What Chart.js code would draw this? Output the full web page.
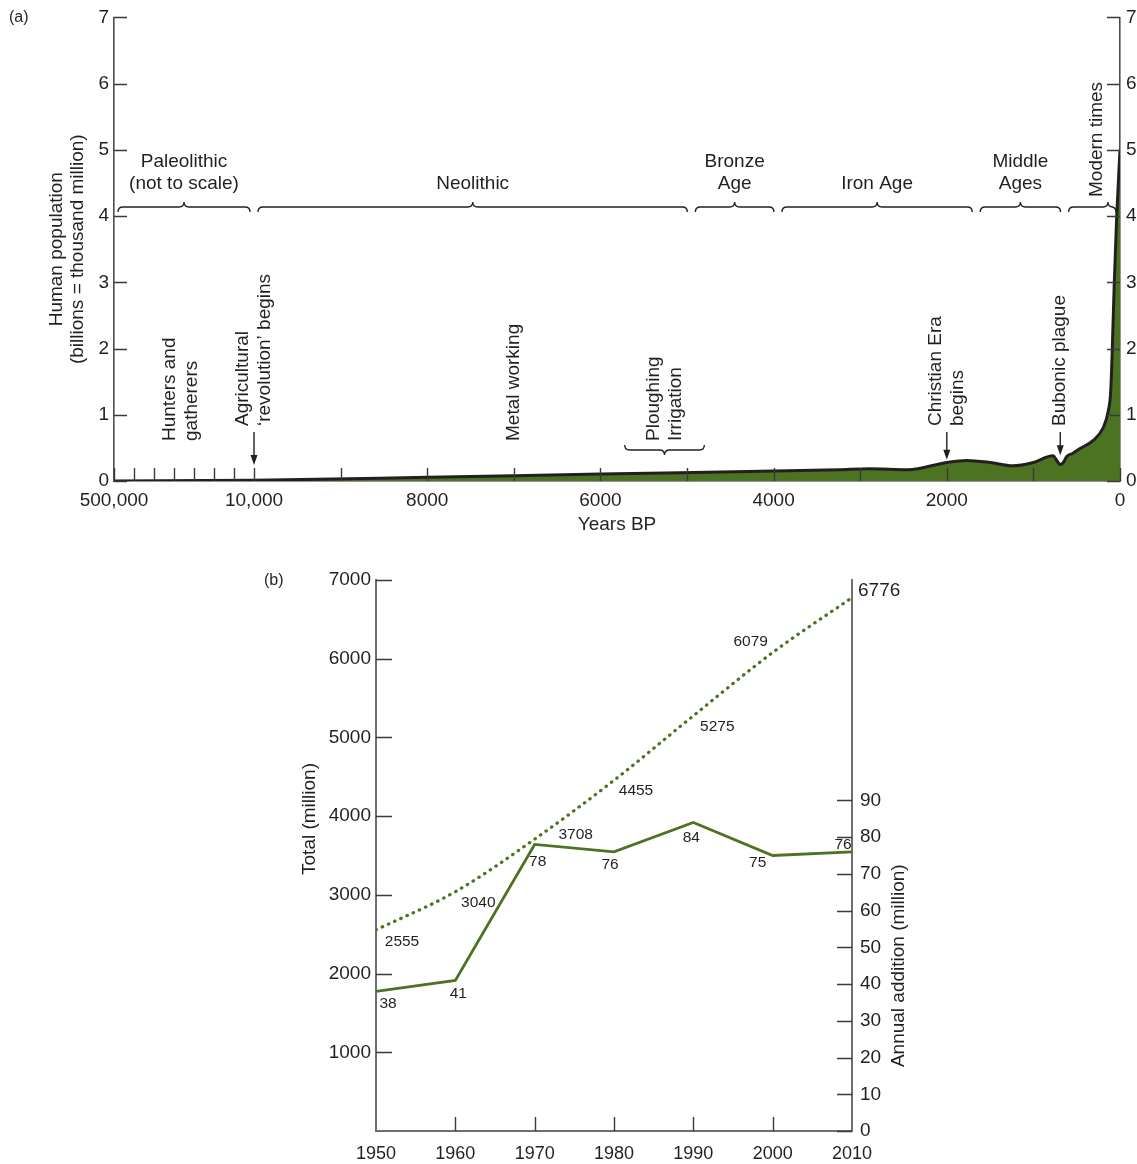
<!DOCTYPE html>
<html>
<head>
<meta charset="utf-8">
<script src="https://cdn.jsdelivr.net/npm/chart.js@4.4.1/dist/chart.umd.min.js"></script>
<style>
  html, body { margin: 0; padding: 0; background: #fff; width: 1137px; height: 1164px; overflow: hidden; }
  canvas { position: absolute; left: 0; }
  #popHistory { top: 0; }
  #popModern { top: 545px; }
</style>
</head>
<body>
<canvas id="popHistory" width="1137" height="545"></canvas>
<canvas id="popModern" width="1137" height="619"></canvas>
<script>
// ---------- (a) world population through history ----------
const yearsBP = [500000, 10000, 8000, 6000, 4000, 3250, 2900, 2450, 2000, 1770, 1500, 1240, 1000,
                 774, 730, 692, 654, 615, 543, 462, 312, 196, 135, 107, 89, 66, 38, 0];
const populationBillions = [0.001, 0.01, 0.055, 0.105, 0.15, 0.17, 0.185, 0.17, 0.28, 0.31, 0.28, 0.23, 0.28,
                            0.38, 0.31, 0.25, 0.28, 0.37, 0.42, 0.49, 0.61, 0.80, 1.06, 1.36, 2.0, 3.0, 4.0, 5.0];

const xTickYears  = [500000, 430000, 360000, 290000, 220000, 150000, 80000, 10000, 9000, 8000, 7000, 6000, 5000, 4000, 3000, 2000, 1000, 0];
const xTickLabels = ['500,000', '', '', '', '', '', '', '10,000', '', '8000', '', '6000', '', '4000', '', '2000', '', '0'];
const popTicks = [0, 1, 2, 3, 4, 5, 6, 7];

const eraNames  = [['Paleolithic', '(not to scale)'], ['Neolithic'], ['Bronze', 'Age'], ['Iron Age'], ['Middle', 'Ages'], ['Modern times']];
const eraBounds = [[500000, 10000], [10000, 4950], [4950, 3950], [3950, 1660], [1660, 640], [640, 0]];

const eventLines = [['Hunters and', 'gatherers'], ['Agricultural', '\u2018revolution\u2019 begins'], ['Metal working'],
                    ['Ploughing', 'Irrigation'], ['Christian Era', 'begins'], ['Bubonic plague']];
const eventYears = [265000, 10000, 7000, 5260, 2000, 690];
const eventArrowTips = [null, 0.24, null, null, 0.32, 0.39];   // billions, where each arrow points
const ploughingSpan = [5720, 4800];

// ---------- (b) world population 1950–2010 ----------
const decades = [1950, 1960, 1970, 1980, 1990, 2000, 2010];
const totalMillions = [2555, 3040, 3708, 4455, 5275, 6079, 6776];
const annualAdditionMillions = [38, 41, 78, 76, 84, 75, 76];
const totalTicks = [1000, 2000, 3000, 4000, 5000, 6000, 7000];
const additionTicks = [0, 10, 20, 30, 40, 50, 60, 70, 80, 90];

// ---------- shared styling ----------
const FONT = "'Liberation Sans', Arial, Helvetica, sans-serif";
const INK = '#231f20';
const GREEN = '#4b7321';
const AXIS_GREY = '#6d6e70';

// The oldest stretch (500,000–10,000 BP) is squeezed into a short, not-to-scale band.
const PALEO_SPAN = 1617;
function toAxis(yr) {
  if (yr <= 10000) return yr;
  return 10000 + (yr - 10000) / 490000 * PALEO_SPAN;
}

function drawInnerTicks(ctx, scale, values, len, side, ca) {
  ctx.save();
  ctx.strokeStyle = '#3a3a3a';
  ctx.lineWidth = 1.4;
  ctx.beginPath();
  values.forEach(v => {
    const p = Math.round(scale.getPixelForValue(v)) + 0.5;
    if (side === 'bottom') { ctx.moveTo(p, ca.bottom); ctx.lineTo(p, ca.bottom - len); }
    else if (side === 'left') { ctx.moveTo(ca.left, p); ctx.lineTo(ca.left + len, p); }
    else { ctx.moveTo(ca.right, p); ctx.lineTo(ca.right - len, p); }
  });
  ctx.stroke();
  ctx.restore();
}

function brace(ctx, x0, x1, xc, y, dir) {
  // dir = -1: point up, ends curl down; dir = 1: point down, ends curl up
  const r = 5;
  ctx.beginPath();
  ctx.moveTo(x0, y - dir * r);
  ctx.quadraticCurveTo(x0, y, x0 + r, y);
  ctx.lineTo(xc - r, y);
  ctx.quadraticCurveTo(xc, y, xc, y + dir * r);
  ctx.quadraticCurveTo(xc, y, xc + r, y);
  ctx.lineTo(x1 - r, y);
  ctx.quadraticCurveTo(x1, y, x1, y - dir * r);
  ctx.stroke();
}

function verticalText(ctx, text, x, yBottom) {
  ctx.save();
  ctx.translate(x, yBottom);
  ctx.rotate(-Math.PI / 2);
  ctx.textAlign = 'left';
  ctx.textBaseline = 'middle';
  ctx.fillText(text, 0, 0);
  ctx.restore();
}

function centeredVerticalText(ctx, text, x, yc) {
  ctx.save();
  ctx.translate(x, yc);
  ctx.rotate(-Math.PI / 2);
  ctx.textAlign = 'center';
  ctx.textBaseline = 'middle';
  ctx.fillText(text, 0, 0);
  ctx.restore();
}

function downArrow(ctx, x, yFrom, yTip) {
  ctx.save();
  ctx.strokeStyle = INK;
  ctx.fillStyle = INK;
  ctx.lineWidth = 1.4;
  ctx.beginPath();
  ctx.moveTo(x, yFrom);
  ctx.lineTo(x, yTip - 8);
  ctx.stroke();
  ctx.beginPath();
  ctx.moveTo(x - 3.5, yTip - 10);
  ctx.lineTo(x + 3.5, yTip - 10);
  ctx.lineTo(x, yTip);
  ctx.closePath();
  ctx.fill();
  ctx.restore();
}

const historyDecor = {
  id: 'historyDecor',
  afterDatasetsDraw(chart) {
    const { ctx, chartArea: ca, scales } = chart;
    const x = scales.x, y = scales.y;
    drawInnerTicks(ctx, x, xTickYears.map(toAxis), 13, 'bottom', ca);
    drawInnerTicks(ctx, y, popTicks, 13, 'left', ca);
    drawInnerTicks(ctx, scales.yRight, popTicks, 13, 'right', ca);

    ctx.save();
    ctx.fillStyle = INK;
    ctx.strokeStyle = INK;
    ctx.font = `19px ${FONT}`;

    // period braces and names
    ctx.lineWidth = 1.4;
    eraBounds.forEach((b, i) => {
      const x0 = x.getPixelForValue(toAxis(b[0])) + 4;
      const x1 = x.getPixelForValue(toAxis(b[1])) - 4;
      const isLast = i === eraBounds.length - 1;
      const xc = isLast ? x0 + (x1 - x0) * 0.83 : (x0 + x1) / 2;
      brace(ctx, x0, x1, xc, 207, -1);
      const lines = eraNames[i];
      if (isLast) {
        verticalText(ctx, lines[0], xc - 11, 197);
      } else {
        ctx.textAlign = 'center';
        ctx.textBaseline = 'middle';
        lines.forEach((t, k) => ctx.fillText(t, (x0 + x1) / 2, 184 - (lines.length - 1 - k) * 22));
      }
    });

    // events
    eventLines.forEach((lines, i) => {
      const xc = x.getPixelForValue(toAxis(eventYears[i]));
      const tip = eventArrowTips[i];
      const yBottom = tip === null ? 441 : 426;
      lines.forEach((t, k) => verticalText(ctx, t, xc + (k - (lines.length - 1) / 2) * 22, yBottom));
      if (tip !== null) downArrow(ctx, xc, 432, y.getPixelForValue(tip));
    });
    ctx.lineWidth = 1.4;
    ctx.strokeStyle = INK;
    brace(ctx, x.getPixelForValue(ploughingSpan[0]), x.getPixelForValue(ploughingSpan[1]),
          (x.getPixelForValue(ploughingSpan[0]) + x.getPixelForValue(ploughingSpan[1])) / 2, 450, 1);

    // axis titles and panel letter
    ctx.textAlign = 'center';
    ctx.textBaseline = 'middle';
    ctx.fillText('Years BP', (ca.left + ca.right) / 2, 525);
    const yMid = (ca.top + ca.bottom) / 2;
    centeredVerticalText(ctx, 'Human population', 57, yMid);
    centeredVerticalText(ctx, '(billions = thousand million)', 78, yMid);
    ctx.font = `16px ${FONT}`;
    ctx.textAlign = 'left';
    ctx.fillText('(a)', 9, 18);
    ctx.restore();
  }
};

const tickFont = { family: FONT, size: 19 };

new Chart(document.getElementById('popHistory'), {
  type: 'line',
  data: {
    datasets: [{
      data: yearsBP.map((yr, i) => ({ x: toAxis(yr), y: populationBillions[i] })),
      borderColor: INK,
      borderWidth: 3,
      backgroundColor: GREEN,
      fill: 'origin',
      pointRadius: 0,
      cubicInterpolationMode: 'monotone'
    }]
  },
  options: {
    responsive: false,
    animation: false,
    events: [],
    layout: { padding: { top: 17, left: 0, right: 0, bottom: 0 } },
    plugins: { legend: { display: false }, tooltip: { enabled: false } },
    scales: {
      x: {
        type: 'linear', reverse: true, min: 0, max: toAxis(500000),
        afterBuildTicks: s => { s.ticks = xTickYears.map(yr => ({ value: toAxis(yr) })); },
        afterFit: s => { s.height = 64; },
        ticks: { autoSkip: false, maxRotation: 0, padding: 8, font: tickFont, color: INK,
                 callback: (v, i) => xTickLabels[i] },
        grid: { drawOnChartArea: false, drawTicks: false },
        border: { color: '#2b2b2b', width: 1.6 }
      },
      y: {
        position: 'left', min: 0, max: 7,
        afterBuildTicks: s => { s.ticks = popTicks.map(v => ({ value: v })); },
        afterFit: s => { s.width = 114; },
        ticks: { padding: 5, font: tickFont, color: INK, callback: v => String(v) },
        grid: { drawOnChartArea: false, drawTicks: false },
        border: { color: '#4d4d4f', width: 1.6 }
      },
      yRight: {
        position: 'right', min: 0, max: 7,
        afterBuildTicks: s => { s.ticks = popTicks.map(v => ({ value: v })); },
        afterFit: s => { s.width = 17; },
        ticks: { padding: 6, font: tickFont, color: INK, callback: v => String(v) },
        grid: { drawOnChartArea: false, drawTicks: false },
        border: { color: '#4d4d4f', width: 1.6 }
      }
    }
  },
  plugins: [historyDecor]
});

// ---------- (b) ----------
// label placement around each point: [dx, dy]
const totalLabelOffsets = [[26, 12], [23, 11], [41, -4], [22, 10], [24, 11], [-22, -11], [6, -7]];
const additionLabelOffsets = [[12, 12], [3, 13], [3, 17], [-4, 13], [-2, 15], [-15, 7], [-9, -7]];

const modernDecor = {
  id: 'modernDecor',
  afterDatasetsDraw(chart) {
    const { ctx, chartArea: ca, scales } = chart;
    drawInnerTicks(ctx, scales.x, decades.slice(1, -1), 14, 'bottom', ca);
    drawInnerTicks(ctx, scales.y, totalTicks, 16, 'left', ca);
    drawInnerTicks(ctx, scales.y2, additionTicks, 15, 'right', ca);

    ctx.save();
    ctx.fillStyle = INK;
    ctx.textBaseline = 'middle';
    const totalPts = chart.getDatasetMeta(0).data;
    totalMillions.forEach((v, i) => {
      const p = totalPts[i];
      const [dx, dy] = totalLabelOffsets[i];
      const last = i === totalMillions.length - 1;
      ctx.font = last ? `19px ${FONT}` : `15.5px ${FONT}`;
      ctx.textAlign = last ? 'left' : 'center';
      ctx.fillText(String(v), p.x + dx, p.y + dy);
    });
    const addPts = chart.getDatasetMeta(1).data;
    ctx.font = `15.5px ${FONT}`;
    ctx.textAlign = 'center';
    annualAdditionMillions.forEach((v, i) => {
      const p = addPts[i];
      const [dx, dy] = additionLabelOffsets[i];
      ctx.fillText(String(v), p.x + dx, p.y + dy);
    });

    ctx.font = `19px ${FONT}`;
    centeredVerticalText(ctx, 'Total (million)', 310, 274);
    const y2 = scales.y2;
    const midAdd = (y2.getPixelForValue(additionTicks[0]) + y2.getPixelForValue(additionTicks[additionTicks.length - 1])) / 2;
    centeredVerticalText(ctx, 'Annual addition (million)', 899, midAdd);
    ctx.font = `16px ${FONT}`;
    ctx.textAlign = 'left';
    ctx.fillText('(b)', 264, 36);
    ctx.restore();
  }
};

new Chart(document.getElementById('popModern'), {
  type: 'line',
  data: {
    datasets: [
      {
        label: 'Total (million)',
        data: decades.map((d, i) => ({ x: d, y: totalMillions[i] })),
        yAxisID: 'y',
        borderColor: GREEN,
        borderWidth: 3.2,
        borderDash: [0.5, 6.3],
        borderCapStyle: 'round',
        pointRadius: 0,
        fill: false,
        cubicInterpolationMode: 'monotone'
      },
      {
        label: 'Annual addition (million)',
        data: decades.map((d, i) => ({ x: d, y: annualAdditionMillions[i] })),
        yAxisID: 'y2',
        borderColor: GREEN,
        borderWidth: 2.8,
        pointRadius: 0,
        fill: false,
        tension: 0
      }
    ]
  },
  options: {
    responsive: false,
    animation: false,
    events: [],
    layout: { padding: { top: 35, left: 0, right: 0, bottom: 0 } },
    plugins: { legend: { display: false }, tooltip: { enabled: false } },
    scales: {
      x: {
        type: 'linear', min: decades[0], max: decades[decades.length - 1],
        afterBuildTicks: s => { s.ticks = decades.map(v => ({ value: v })); },
        afterFit: s => { s.height = 33; },
        ticks: { autoSkip: false, maxRotation: 0, padding: 12, font: { family: FONT, size: 18 }, color: INK,
                 callback: v => String(v) },
        grid: { drawOnChartArea: false, drawTicks: false },
        border: { color: AXIS_GREY, width: 2 }
      },
      y: {
        position: 'left', min: 0, max: 7000,
        afterBuildTicks: s => { s.ticks = totalTicks.map(v => ({ value: v })); },
        afterFit: s => { s.width = 376; },
        ticks: { padding: 5, font: tickFont, color: INK, callback: v => String(v) },
        grid: { drawOnChartArea: false, drawTicks: false },
        border: { color: AXIS_GREY, width: 2 }
      },
      y2: {
        position: 'right', min: 0, max: 150,
        afterBuildTicks: s => { s.ticks = additionTicks.map(v => ({ value: v })); },
        afterFit: s => { s.width = 285; },
        ticks: { padding: 8, font: tickFont, color: INK, callback: v => String(v) },
        grid: { drawOnChartArea: false, drawTicks: false },
        border: { color: AXIS_GREY, width: 2 }
      }
    }
  },
  plugins: [modernDecor]
});
</script>
</body>
</html>
